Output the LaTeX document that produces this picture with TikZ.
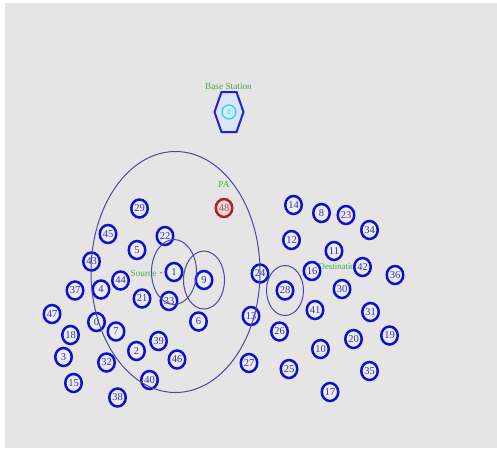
\documentclass[tikz,border=0pt]{standalone}
\usepackage{fontspec}
\setmainfont{Liberation Serif}
\usetikzlibrary{shapes.geometric}
\definecolor{bg}{HTML}{E5E5E5}
\definecolor{nodeblue}{HTML}{1010CC}
\definecolor{nodefill}{HTML}{ECECF8}
\definecolor{numtext}{HTML}{3535A0}
\definecolor{ringcol}{HTML}{4848A8}
\definecolor{lblgreen}{HTML}{48A848}
\definecolor{pared}{HTML}{A82424}
\definecolor{pafill}{HTML}{F2DADA}
\definecolor{patext}{HTML}{C04848}
\definecolor{hexblue}{HTML}{2020DD}
\definecolor{hexfill}{HTML}{DDE6F6}
\definecolor{bscyan}{HTML}{40C8E8}
\definecolor{bsfill}{HTML}{CDEFF8}
\begin{document}
\begin{tikzpicture}[x=1pt,y=-1pt,
  mote/.style={ellipse, draw=nodeblue, line width=2.5pt, fill=nodefill, text=numtext,
    minimum width=16.5pt, minimum height=18pt, inner sep=0pt, font=\fontsize{10.5}{10.5}\selectfont},
  pamote/.style={mote, draw=pared, fill=pafill, text=patext},
  ring/.style={draw=ringcol, line width=1pt},
  lbl/.style={text=lblgreen, inner sep=0pt, font=\fontsize{9.3}{9.3}\selectfont},
  hexedge/.style={draw=hexblue, fill=hexfill, line width=2pt, line join=miter},
  bsmote/.style={circle, draw=bscyan, fill=bsfill, line width=1.3pt, minimum size=14pt,
    inner sep=0pt, text=bscyan, font=\fontsize{7}{7}\selectfont}]
\useasboundingbox (0,0) rectangle (497,448);
\fill[white] (0,0) rectangle (497,448);
\fill[bg] (5,3) rectangle (497,448);

% labels
\node[lbl] (bslbl) at (228.5,86) {Base Station};
\node[lbl] (palbl) at (224,184) {PA};
\node[lbl] (srclbl) at (143.5,273) {Source};
\node[text=black!70, inner sep=0pt, font=\fontsize{9}{9}\selectfont] (srcdash) at (161,274) {-};
\node[lbl, font=\fontsize{8.8}{8.8}\selectfont] (dstlbl) at (339,267) {Destination};

% base station
\coordinate (bsc) at (229,112);
\draw[hexedge] (bsc) ++(-7.5,-20) -- ++(15,0) -- ++(7,20) -- ++(-7,20) -- ++(-15,0) -- ++(-7,-20) -- cycle;
\node[bsmote] (bs) at (bsc) {0};

% motes
\foreach \n/\x/\y in {
  0/96.5/322, 1/174/272, 2/136.5/351, 3/63.5/357, 4/101/289.5, 5/137/250,
  6/198.5/321.5, 7/116/331.5, 8/321.5/213, 9/204/280, 10/320.5/349, 11/334/251,
  12/291.5/240, 13/251/316, 14/293.5/205, 15/73.5/383, 16/312/271, 17/330/392,
  18/70.5/335, 19/389.5/335.5, 20/353.5/339, 21/142/298.5, 22/165/236, 23/346/215,
  24/260/273.5, 25/289/369, 26/279.5/331.5, 27/249/363, 28/285/290.5, 29/139.5/208.5,
  30/342/289, 31/370.5/312, 32/106.5/362.5, 33/169/301, 34/369.5/230, 35/369.5/371,
  36/395/275, 37/75/290.5, 38/117.5/397.5, 39/158.5/341, 40/149.5/380, 41/315/310,
  42/362.5/267, 43/91.5/261.5, 44/120.5/280.5, 45/108/234, 46/177/359.5, 47/52/314}
  {\node[mote] (n\n) at (\x,\y) {\n};}
\node[pamote] (n48) at (224,208) {48};

% ranges
\draw[ring] (175.5,272) ellipse [x radius=84.5pt, y radius=120.5pt];
\draw[ring] (n1.center) ellipse [x radius=22.5pt, y radius=32.5pt];
\draw[ring] (n9.center) ellipse [x radius=20.5pt, y radius=29pt];
\draw[ring] (n28.center) ellipse [x radius=18.5pt, y radius=25pt];
\end{tikzpicture}
\end{document}
